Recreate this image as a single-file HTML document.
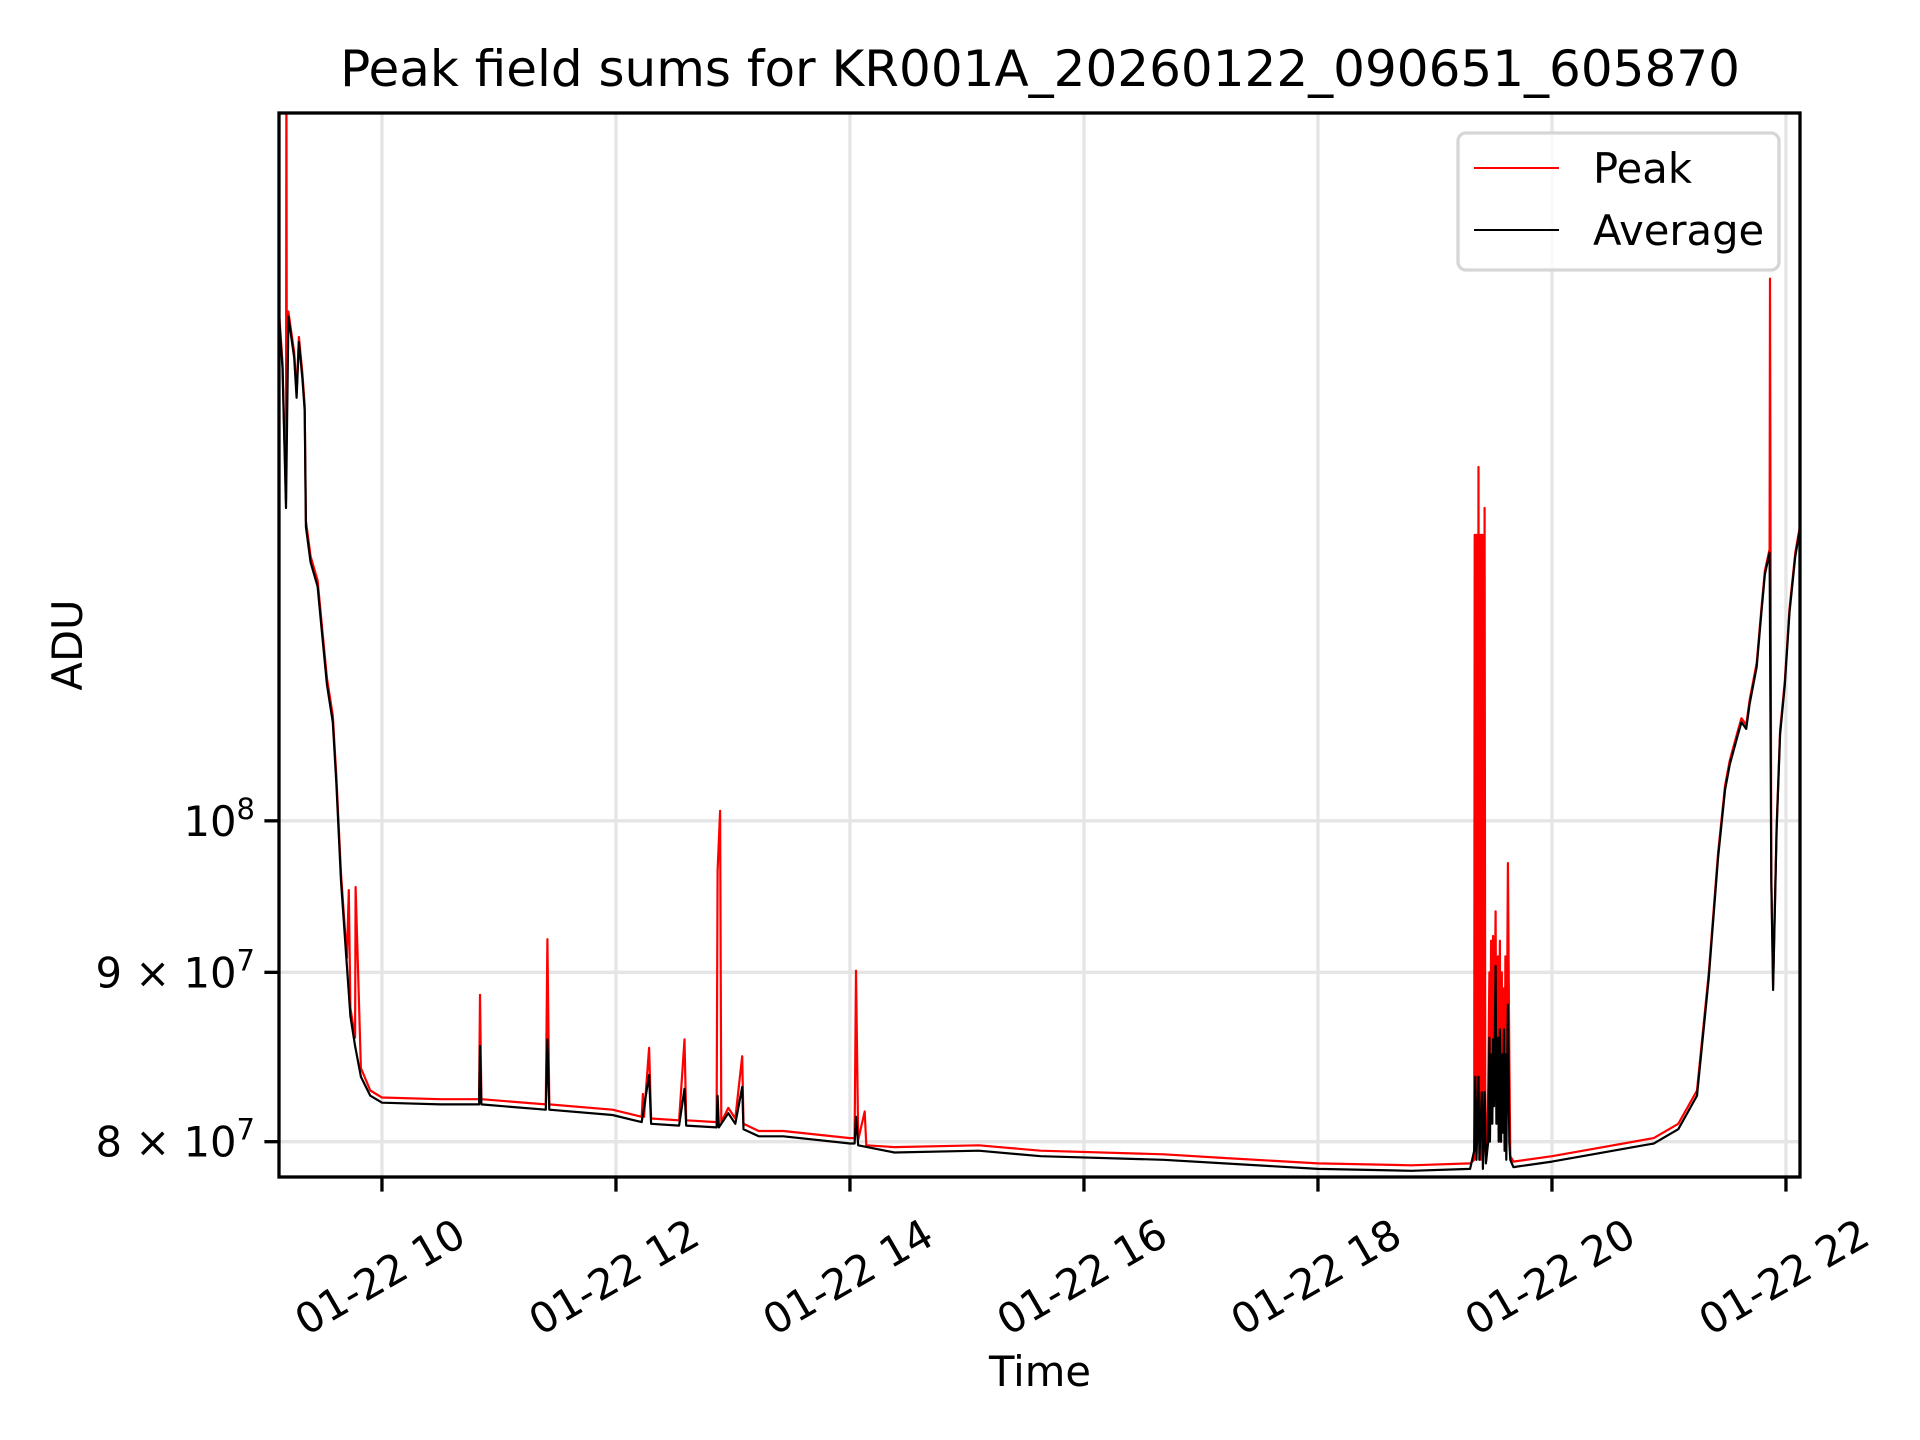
<!DOCTYPE html>
<html><head><meta charset="utf-8"><style>
html,body{margin:0;padding:0;background:#fff;}
svg{display:block;font-family:"DejaVu Sans","Liberation Sans",sans-serif;}
</style></head><body>
<svg id="chart" width="1920" height="1440" viewBox="0 0 1920 1440">
<rect x="0" y="0" width="1920" height="1440" fill="#fff"/>
<text x="1040" y="86" font-size="50" text-anchor="middle">Peak field sums for KR001A_20260122_090651_605870</text>
<g id="grid"></g>
<g id="series"></g>
<rect x="279" y="113" width="1521" height="1064" fill="none" stroke="#000" stroke-width="3.3"/>
<g id="xticks"></g>
<g id="yticks"></g>
<text x="1040" y="1386" font-size="41.7" text-anchor="middle">Time</text>
<text transform="translate(82,645) rotate(-90)" font-size="41.7" text-anchor="middle">ADU</text>
<g>
<rect x="1458" y="133" width="321" height="137" rx="8" fill="#fff" fill-opacity="0.8" stroke="#d6d6d6" stroke-width="3.3"/>
<line x1="1474" y1="168" x2="1559" y2="168" stroke="#f00" stroke-width="2"/>
<text x="1593" y="183" font-size="41.7">Peak</text>
<line x1="1474" y1="230" x2="1559" y2="230" stroke="#000" stroke-width="2"/>
<text x="1593" y="245" font-size="41.7">Average</text>
</g>
</svg>
<script>
// time in hours on 01-22, values in ADU
const avgT = [9.12,9.15,9.18,9.20,9.25,9.27,9.29,9.32,9.34,9.35,9.39,9.45,9.49,9.53,9.58,9.61,9.65,9.70,9.73,9.77,9.82,9.90,10.0,10.5,10.83,10.838,10.85,11.40,11.414,11.43,11.97,12.22,12.283,12.30,12.54,12.586,12.60,12.86,12.869,12.88,12.96,13.02,13.079,13.09,13.22,13.43,14.0,14.04,14.052,14.07,14.38,15.1,15.63,16.68,17.2,18.0,18.8,19.30,19.335,19.345,19.355,19.372,19.38,19.40,19.41,19.424,19.435,19.455,19.465,19.47,19.48,19.49,19.497,19.505,19.518,19.525,19.539,19.545,19.555,19.565,19.571,19.58,19.59,19.595,19.602,19.61,19.623,19.635,19.644,19.67,20.0,20.35,20.87,21.08,21.24,21.34,21.42,21.48,21.52,21.59,21.62,21.66,21.69,21.75,21.79,21.82,21.86,21.875,21.89,21.92,21.95,21.99,22.03,22.08,22.12];
const avgV = [14.2e7,13.7e7,12.43e7,14.2e7,13.8e7,13.42e7,13.95e7,13.6e7,13.3e7,12.27e7,11.97e7,11.77e7,11.37e7,10.99e7,10.71e7,10.27e7,9.59e7,9.04e7,8.73e7,8.55e7,8.37e7,8.26e7,8.22e7,8.21e7,8.21e7,8.55e7,8.21e7,8.18e7,8.59e7,8.18e7,8.15e7,8.11e7,8.38e7,8.10e7,8.09e7,8.30e7,8.09e7,8.08e7,8.26e7,8.08e7,8.16e7,8.10e7,8.31e7,8.07e7,8.03e7,8.03e7,7.99e7,7.99e7,8.14e7,7.98e7,7.94e7,7.95e7,7.92e7,7.90e7,7.88e7,7.85e7,7.84e7,7.85e7,7.95e7,8.37e7,7.90e7,8.37e7,7.90e7,8.28e7,7.85e7,8.28e7,7.88e7,8.0e7,8.6e7,8.0e7,8.5e7,8.1e7,8.59e7,8.2e7,9.04e7,8.1e7,8.6e7,8.0e7,8.65e7,8.0e7,8.5e7,8.05e7,8.65e7,7.95e7,8.5e7,7.9e7,8.8e7,8.0e7,7.90e7,7.86e7,7.89e7,7.93e7,7.99e7,8.07e7,8.26e7,8.96e7,9.75e7,10.22e7,10.40e7,10.62e7,10.71e7,10.66e7,10.85e7,11.13e7,11.56e7,11.87e7,12.05e7,9.59e7,8.89e7,9.93e7,10.62e7,10.99e7,11.56e7,12.02e7,12.25e7];
const peakT = [9.12,9.15,9.18,9.183,9.186,9.20,9.25,9.27,9.29,9.32,9.34,9.35,9.39,9.45,9.49,9.53,9.58,9.61,9.65,9.70,9.717,9.73,9.77,9.775,9.82,9.90,10.0,10.5,10.83,10.838,10.85,11.40,11.414,11.43,11.97,12.22,12.23,12.24,12.283,12.30,12.54,12.586,12.60,12.86,12.869,12.89,12.90,12.96,13.02,13.079,13.09,13.22,13.43,14.0,14.04,14.052,14.07,14.126,14.14,14.38,15.1,15.63,16.68,17.2,18.0,18.8,19.30,19.335,19.34,19.345,19.35,19.355,19.36,19.365,19.372,19.378,19.385,19.39,19.395,19.40,19.405,19.41,19.415,19.42,19.424,19.43,19.44,19.455,19.465,19.47,19.48,19.485,19.497,19.505,19.518,19.525,19.539,19.545,19.555,19.56,19.571,19.58,19.59,19.595,19.602,19.61,19.623,19.635,19.644,19.67,20.0,20.35,20.87,21.08,21.24,21.34,21.42,21.48,21.52,21.59,21.62,21.66,21.69,21.75,21.79,21.82,21.86,21.864,21.875,21.89,21.92,21.95,21.99,22.03,22.08,22.12];
const peakV = [14.25e7,13.75e7,12.5e7,17.0e7,14.2e7,14.25e7,13.85e7,13.47e7,14.0e7,13.65e7,13.35e7,12.32e7,12.02e7,11.82e7,11.42e7,11.04e7,10.76e7,10.32e7,9.64e7,9.09e7,9.53e7,8.78e7,8.60e7,9.55e7,8.42e7,8.29e7,8.25e7,8.24e7,8.24e7,8.86e7,8.24e7,8.21e7,9.21e7,8.21e7,8.18e7,8.14e7,8.27e7,8.14e7,8.54e7,8.13e7,8.12e7,8.59e7,8.12e7,8.11e7,9.66e7,10.07e7,8.11e7,8.19e7,8.13e7,8.49e7,8.10e7,8.06e7,8.06e7,8.02e7,8.02e7,9.01e7,8.01e7,8.17e7,7.98e7,7.97e7,7.98e7,7.95e7,7.93e7,7.91e7,7.88e7,7.87e7,7.88e7,7.9e7,12.2e7,8.0e7,12.2e7,8.1e7,12.2e7,8.0e7,12.79e7,8.0e7,12.2e7,7.9e7,12.2e7,8.0e7,12.2e7,8.0e7,12.2e7,7.95e7,12.43e7,7.95e7,7.9e7,8.3e7,9.0e7,8.1e7,9.2e7,8.2e7,9.23e7,8.3e7,9.39e7,8.2e7,9.1e7,8.1e7,9.2e7,8.0e7,9.0e7,8.1e7,8.9e7,7.95e7,9.1e7,8.0e7,9.71e7,8.5e7,7.92e7,7.89e7,7.92e7,7.96e7,8.02e7,8.10e7,8.29e7,8.99e7,9.78e7,10.25e7,10.43e7,10.65e7,10.74e7,10.69e7,10.88e7,11.16e7,11.59e7,11.90e7,12.08e7,14.58e7,9.62e7,8.92e7,9.96e7,10.65e7,11.02e7,11.59e7,12.05e7,12.28e7];
const xTickHours = [10,12,14,16,18,20,22];
const xTickLabels = ["01-22 10","01-22 12","01-22 14","01-22 16","01-22 18","01-22 20","01-22 22"];
const yTickValues = [1e8,9e7,8e7];
const yTickMant = ["","9","8"];
const yTickExp = ["8","7","7"];

const L=279,R=1800,T=113,B=1177;
const xMin=9.12,xMax=22.12;
const yMinLog=Math.log10(7.806e7), yMaxLog=Math.log10(1.636e8);
function xs(h){return L+(h-xMin)/(xMax-xMin)*(R-L);}
function ys(v){return B-(Math.log10(v)-yMinLog)/(yMaxLog-yMinLog)*(B-T);}
const NS="http://www.w3.org/2000/svg";
function mk(tag,attrs,parent){const e=document.createElementNS(NS,tag);for(const k in attrs)e.setAttribute(k,attrs[k]);parent.appendChild(e);return e;}
const grid=document.getElementById('grid'),xt=document.getElementById('xticks'),yt=document.getElementById('yticks'),ser=document.getElementById('series');
xTickHours.forEach((h,i)=>{
  const x=xs(h);
  const g=mk('line',{x1:x,y1:T,x2:x,y2:B,stroke:'#e5e5e5','stroke-width':3.3},grid);
  
  
  const t=mk('line',{x1:x,y1:B,x2:x,y2:B+14.6,stroke:'#000','stroke-width':3.3},xt);
  
  
  const lb=mk('text',{'font-size':41.7,'text-anchor':'middle','dominant-baseline':'central',transform:`translate(${x-2},${B+100}) rotate(-30)`},xt);
  lb.textContent=xTickLabels[i];
  
  
});
yTickValues.forEach((v,i)=>{
  const y=ys(v);
  const g=mk('line',{x1:L,y1:y,x2:R,y2:y,stroke:'#e5e5e5','stroke-width':3.3},grid);
  
  
  const t=mk('line',{x1:L-14.6,y1:y,x2:L,y2:y,stroke:'#000','stroke-width':3.3},yt);
  
  
  const lb=mk('text',{x:L-24,y:y+15,'font-size':41.7,'text-anchor':'end'},yt);
  
  
  const pre=yTickMant[i]?yTickMant[i]+' \u00d7 10':'10';
  const s1=document.createElementNS(NS,'tspan');s1.textContent=pre;lb.appendChild(s1);
  const s2=document.createElementNS(NS,'tspan');s2.setAttribute('dy','-17');s2.setAttribute('font-size','29');s2.textContent=yTickExp[i];lb.appendChild(s2);
});
const clip=mk('clipPath',{id:'pc'},ser);
mk('rect',{x:L,y:T,width:R-L,height:B-T},clip);
function path(ts,vs){return ts.map((t,i)=>(i?'L':'M')+xs(t).toFixed(1)+','+ys(vs[i]).toFixed(1)).join('');}
const pk=mk('path',{d:path(peakT,peakV),fill:'none',stroke:'#f00','stroke-width':2.2,'clip-path':'url(#pc)','stroke-linejoin':'round'},ser);


const av=mk('path',{d:path(avgT,avgV),fill:'none',stroke:'#000','stroke-width':2.2,'clip-path':'url(#pc)','stroke-linejoin':'round'},ser);


</script>
</body></html>
